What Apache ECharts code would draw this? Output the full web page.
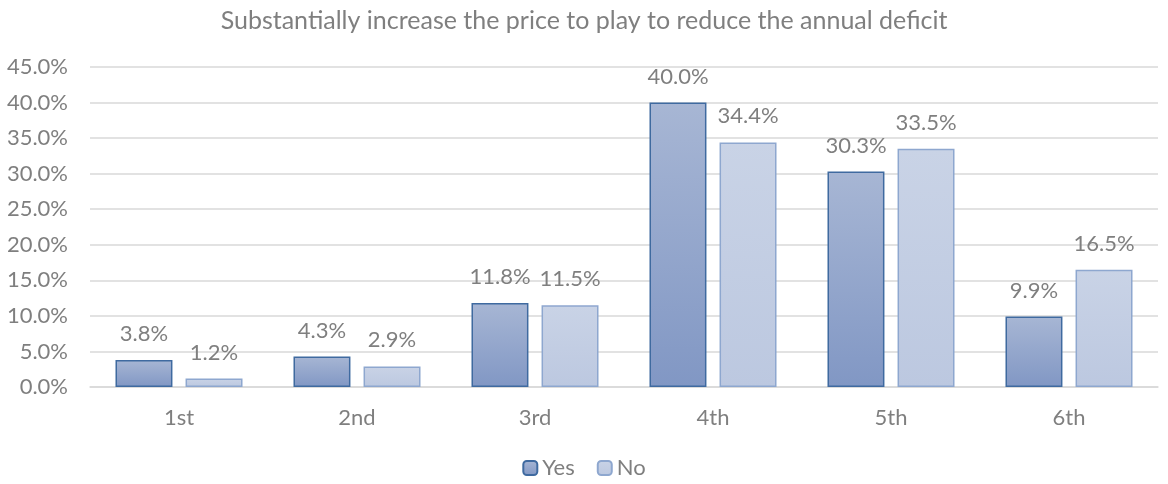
<!DOCTYPE html>
<html><head><meta charset="utf-8">
<script src="https://cdn.jsdelivr.net/npm/echarts@6/dist/echarts.min.js"></script>
<style>html,body{margin:0;padding:0;background:#fff}#c{width:1168px;height:484px}</style>
</head><body><div id="c"></div>
<script>
const categories = ['1st','2nd','3rd','4th','5th','6th'];
const yesValues = [3.8, 4.3, 11.8, 40.0, 30.3, 9.9];
const noValues = [1.2, 2.9, 11.5, 34.4, 33.5, 16.5];
const seriesNames = ['Yes','No'];
const titleText = 'Substantially increase the price to play to reduce the annual deficit';

const FONT = 'Lato, "Open Sans", sans-serif';
const chart = echarts.init(document.getElementById('c'));
const grad = (top, bottom) => new echarts.graphic.LinearGradient(0,0,0,1,[{offset:0,color:top},{offset:1,color:bottom}]);
const labelCfg = {show:true, position:'top', distance:15, color:'#7f7f7f', fontSize:22, fontFamily:FONT, formatter: p => p.value.toFixed(1) + '%'};
chart.setOption({
  animation:false,
  title:{text:titleText, left:'center', top:3, textStyle:{color:'#7f7f7f', fontSize:25, fontWeight:'normal', fontFamily:FONT}},
  legend:{bottom:0, left:'center', itemWidth:14, itemHeight:14, itemGap:22, textStyle:{color:'#7f7f7f', fontSize:22, fontFamily:FONT}, data:seriesNames},
  grid:{left:90, right:10, top:67, bottom:97},
  xAxis:{type:'category', data:categories, axisTick:{show:false}, axisLine:{lineStyle:{color:'#d9d9d9', width:1.5}},
    axisLabel:{color:'#7f7f7f', fontSize:22, fontFamily:FONT, margin:20}},
  yAxis:{type:'value', min:0, max:45, interval:5, axisLine:{show:false}, axisTick:{show:false},
    splitLine:{lineStyle:{color:'#d9d9d9', width:1.5}},
    axisLabel:{color:'#7f7f7f', fontSize:22, fontFamily:FONT, margin:22, formatter: v => v.toFixed(1) + '%'}},
  series:[
    {name:'Yes', type:'bar', data:yesValues, barWidth:'32%', barGap:'23%',
      itemStyle:{color:grad('#a7b6d4','#8197c4'), borderColor:'#3f6aa0', borderWidth:1.5}, label:labelCfg},
    {name:'No', type:'bar', data:noValues, barWidth:'32%',
      itemStyle:{color:grad('#c9d3e6','#bcc8e0'), borderColor:'#8ea7cf', borderWidth:1.5}, label:labelCfg}
  ]
});
</script></body></html>
